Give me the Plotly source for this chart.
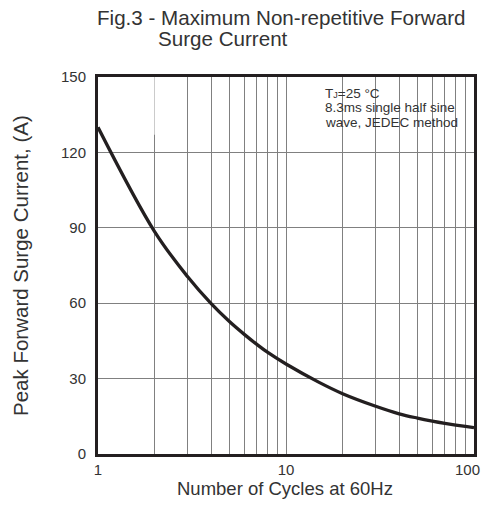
import plotly.graph_objects as go

# Data
cycles = [1, 2, 3, 4, 5, 6, 7, 8, 10, 15, 20, 30, 40, 50, 60, 70, 80, 90, 100]
current = [130, 88.5, 70.5, 59.8, 52.7, 47.6, 43.6, 40.4, 35.8, 28.5, 24.0, 19.0, 16.0, 14.3, 13.1, 12.2, 11.5, 10.95, 10.5]

x_grid = [1, 2, 3, 4, 5, 6, 7, 8, 9, 10, 20, 30, 40, 50, 60, 70, 80, 90, 100]
x_labels = ["1", "", "", "", "", "", "", "", "", "10", "", "", "", "", "", "", "", "", ""]
last_x_label = "100"
y_ticks = [0, 30, 60, 90, 120, 150]

title_line1 = "Fig.3 - Maximum Non-repetitive Forward"
title_line2 = "Surge Current"
x_title = "Number of Cycles at 60Hz"
y_title = "Peak Forward Surge Current, (A)"
note_lines = ["T<span style='font-size:9px'>J</span>=25 °C", "8.3ms single half sine", "wave, JEDEC method"]

FONT = "Liberation Sans, Arial, sans-serif"
INK = "#231f20"
TXT = "#333333"

# plot area in figure pixels (page has an 8px body margin)
L, T, W, H = 90, 69, 376, 377
FIG_W, FIG_H = 481, 492

def px(xp):
    return (xp - 8 - L) / W

def py(yp):
    return (T + H - (yp - 8)) / H

fig = go.Figure()
fig.add_trace(go.Scatter(
    x=cycles, y=current, mode="lines",
    line=dict(color=INK, width=3.3, shape="spline", smoothing=1.0),
    hoverinfo="skip", showlegend=False,
))

# white box behind the note (hides vertical gridlines)
fig.add_shape(type="rect", xref="x", yref="y", x0=1.02, x1=2, y0=127, y1=150,
              fillcolor="white", line=dict(width=0), layer="between")

fig.update_layout(
    width=FIG_W, height=FIG_H,
    margin=dict(l=L, r=FIG_W - L - W, t=T, b=FIG_H - T - H),
    paper_bgcolor="white", plot_bgcolor="white",
    font=dict(family=FONT, color=TXT),
    showlegend=False,
    xaxis=dict(
        type="log", range=[0, 2],
        tickvals=x_grid, ticktext=x_labels, tickangle=0,
        showgrid=True, gridcolor="#808080", gridwidth=1,
        showline=True, linecolor=INK, linewidth=3, mirror=True,
        ticks="", tickfont=dict(size=15, color=TXT, family=FONT),
        zeroline=False, automargin=False, ticklabeloverflow="allow",
    ),
    yaxis=dict(
        range=[0, 150], tickvals=y_ticks,
        showgrid=True, gridcolor="#808080", gridwidth=1,
        showline=True, linecolor=INK, linewidth=3, mirror=True,
        ticks="", tickfont=dict(size=15, color=TXT, family=FONT),
        zeroline=False, ticklabelstandoff=6, automargin=False,
    ),
)

# last x tick label placed as annotation so it stays inside the window
fig.add_annotation(text=last_x_label, xref="x", yref="paper", x=2, y=py(469),
                   xanchor="right", yanchor="middle", xshift=8, showarrow=False,
                   font=dict(size=15, color=TXT, family=FONT))

fig.add_annotation(text=title_line1, xref="paper", yref="paper", x=px(95), y=py(17),
                   xanchor="left", yanchor="middle", showarrow=False,
                   font=dict(size=20.6, color=TXT, family=FONT))
fig.add_annotation(text=title_line2, xref="paper", yref="paper", x=px(156), y=py(38.5),
                   xanchor="left", yanchor="middle", showarrow=False,
                   font=dict(size=20.6, color=TXT, family=FONT))
fig.add_annotation(text=x_title, xref="paper", yref="paper", x=px(285), y=py(488),
                   xanchor="center", yanchor="middle", showarrow=False,
                   font=dict(size=18.5, color=TXT, family=FONT))
fig.add_annotation(text=y_title, xref="paper", yref="paper", x=px(20), y=py(266),
                   xanchor="center", yanchor="middle", showarrow=False, textangle=-90,
                   font=dict(size=20.5, color=TXT, family=FONT))
for line, yc in zip(note_lines, [93, 107.5, 122]):
    fig.add_annotation(text=line, xref="paper", yref="paper", x=px(323), y=py(yc),
                       xanchor="left", yanchor="middle", showarrow=False, align="left",
                       font=dict(size=13.5, color=TXT, family=FONT))

fig.write_html("out.html")
